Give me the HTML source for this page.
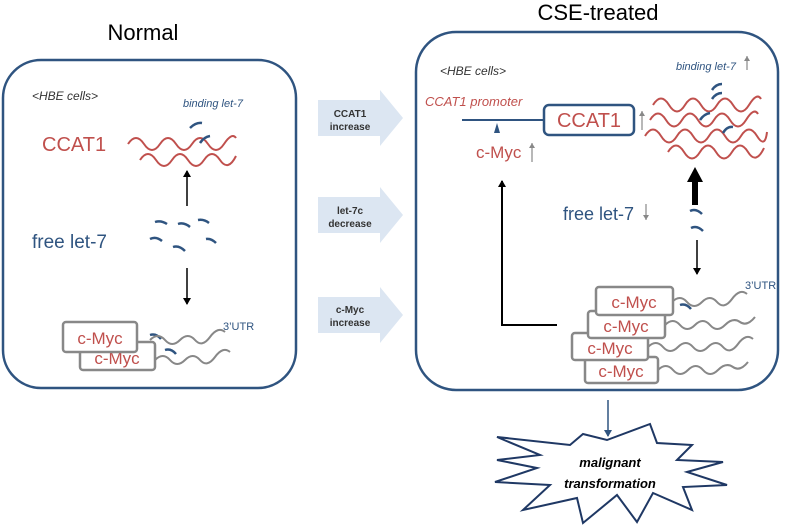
<!DOCTYPE html><html><head><meta charset="utf-8"><style>body{margin:0;background:#fff}svg{display:block}text{font-family:"Liberation Sans",sans-serif}</style></head><body>
<svg width="788" height="525" viewBox="0 0 788 525" xmlns="http://www.w3.org/2000/svg">
<defs>
<marker id="a" markerWidth="8" markerHeight="8" refX="6" refY="4" orient="auto" markerUnits="userSpaceOnUse"><path d="M0,0 L7,4 L0,8z" fill="#000"/></marker>
<marker id="g" markerWidth="6" markerHeight="6" refX="5" refY="3" orient="auto" markerUnits="userSpaceOnUse"><path d="M0,0 L5,3 L0,6z" fill="#888"/></marker>
<marker id="b" markerWidth="8" markerHeight="8" refX="6" refY="4" orient="auto" markerUnits="userSpaceOnUse"><path d="M0,0 L7,4 L0,8z" fill="#2f5480"/></marker>
</defs>
<text x="143" y="40" font-size="22" text-anchor="middle">Normal</text>
<text x="598" y="20" font-size="22" text-anchor="middle">CSE-treated</text>
<rect x="3" y="60" width="293" height="328" rx="38" fill="none" stroke="#2f5480" stroke-width="2.5"/>
<rect x="416" y="32" width="362" height="358" rx="40" fill="none" stroke="#2f5480" stroke-width="2.5"/>

<!-- left -->
<text x="32" y="100" font-size="12" font-style="italic" fill="#333">&lt;HBE cells&gt;</text>
<text x="183" y="107" font-size="11" font-style="italic" fill="#2f5480">binding let-7</text>
<text x="42" y="151" font-size="20" fill="#c0504d">CCAT1</text>
<g fill="none" stroke="#c0504d" stroke-width="2">
<path d="M128,144 q8,-12 16,0 t16,0 t16,0 t16,0 t16,0 t16,0 t12,-6"/>
<path d="M140,160 q8,-12 16,0 t16,0 t16,0 t16,0 t16,0 t16,-4"/>
</g>
<g fill="none" stroke="#2f5480" stroke-width="2.5">
<path d="M190,128 q6,-6 12,-5"/><path d="M200,143 q4,-6 10,-7"/>
<path d="M155,222 q6,-2 12,2"/><path d="M178,224 q6,-2 12,3"/><path d="M198,220 q6,-1 11,3"/>
<path d="M150,239 q6,-3 12,2"/><path d="M173,247 q6,-2 12,4"/><path d="M206,239 q5,-1 10,4"/>
<path d="M150,335 q6,-2 11,4"/><path d="M165,350 q6,-2 11,4"/>
</g>
<line x1="187" y1="206" x2="187" y2="171" stroke="#000" stroke-width="1.5" marker-end="url(#a)"/>
<line x1="187" y1="268" x2="187" y2="304" stroke="#000" stroke-width="1.5" marker-end="url(#a)"/>
<text x="32" y="248" font-size="19" fill="#2f5480">free let-7</text>
<text x="223" y="330" font-size="11" fill="#2f5480">3’UTR</text>
<g fill="none" stroke="#888" stroke-width="2">
<path d="M150,340 q8,-8 15,0 t15,0 t15,0 t15,-3 t15,-5"/>
<path d="M155,360 q8,-8 15,0 t15,0 t15,0 t15,-3 t15,-5"/>
</g>
<rect x="80" y="342" width="75" height="28" rx="3" fill="#fff" stroke="#888" stroke-width="2.5"/>
<text x="117" y="364" font-size="17" fill="#c0504d" text-anchor="middle">c-Myc</text>
<rect x="63" y="322" width="74" height="30" rx="3" fill="#fff" stroke="#888" stroke-width="2.5"/>
<text x="100" y="344" font-size="17" fill="#c0504d" text-anchor="middle">c-Myc</text>

<!-- middle arrows -->
<g fill="#dce6f2">
<path d="M318,100 H380 V90 L403,118 L380,146 V136 H318z"/>
<path d="M318,197 H380 V187 L403,215 L380,243 V233 H318z"/>
<path d="M318,297 H380 V287 L403,315 L380,343 V333 H318z"/>
</g>
<g font-size="10" font-weight="bold" fill="#333" text-anchor="middle">
<text x="350" y="117">CCAT1</text><text x="350" y="130">increase</text>
<text x="350" y="214">let-7c</text><text x="350" y="227">decrease</text>
<text x="350" y="313">c-Myc</text><text x="350" y="326">increase</text>
</g>

<!-- right -->
<text x="440" y="75" font-size="12" font-style="italic" fill="#333">&lt;HBE cells&gt;</text>
<text x="676" y="70" font-size="11" font-style="italic" fill="#2f5480">binding let-7</text>
<line x1="747" y1="70" x2="747" y2="56" stroke="#888" stroke-width="1.2" marker-end="url(#g)"/>
<text x="425" y="106" font-size="13" font-style="italic" fill="#c0504d">CCAT1 promoter</text>
<line x1="462" y1="120" x2="545" y2="120" stroke="#2f5480" stroke-width="2"/>
<path d="M494,133 L497,123 L500,133z" fill="#2f5480"/>
<rect x="544" y="105" width="90" height="30" rx="5" fill="#fff" stroke="#2f5480" stroke-width="2.5"/>
<text x="589" y="127" font-size="20" fill="#c0504d" text-anchor="middle">CCAT1</text>
<line x1="642" y1="130" x2="642" y2="111" stroke="#888" stroke-width="1.2" marker-end="url(#g)"/>
<text x="476" y="158" font-size="17" fill="#c0504d">c-Myc</text>
<line x1="532" y1="162" x2="532" y2="143" stroke="#888" stroke-width="1.2" marker-end="url(#g)"/>
<g fill="none" stroke="#c0504d" stroke-width="2">
<path d="M653,105 q8,-13 16,0 t16,0 t16,0 t16,0 t16,0 t16,0 t12,-6"/>
<path d="M650,120 q8,-13 16,0 t16,0 t16,0 t16,0 t16,0 t16,0 t12,-6"/>
<path d="M645,136 q8,-13 16,0 t16,0 t16,0 t16,0 t16,0 t16,0 t16,0 t10,-4"/>
<path d="M668,152 q8,-13 16,0 t16,0 t16,0 t16,0 t16,0 t16,-4"/>
</g>
<g fill="none" stroke="#2f5480" stroke-width="2.5">
<path d="M712,90 q4,-6 10,-6"/><path d="M712,99 q4,-6 10,-6"/><path d="M700,120 q4,-6 10,-7"/><path d="M723,133 q4,-7 10,-6"/>
<path d="M690,211 q6,-3 12,3"/><path d="M691,228 q6,-3 12,3"/>
<path d="M680,305 q6,-2 11,4"/>
</g>
<path d="M692,205 V182 H687 L695,167 L703,182 H698 V205z" fill="#000"/>
<line x1="697" y1="240" x2="697" y2="274" stroke="#000" stroke-width="1.5" marker-end="url(#a)"/>
<text x="563" y="220" font-size="18" fill="#2f5480">free let-7</text>
<line x1="646" y1="204" x2="646" y2="220" stroke="#888" stroke-width="1.2" marker-end="url(#g)"/>
<text x="745" y="289" font-size="11" fill="#2f5480">3’UTR</text>
<g fill="none" stroke="#888" stroke-width="2">
<path d="M672,302 q8,-8 15,0 t15,0 t15,0 t15,-3 t15,-5"/>
<path d="M665,325 q8,-8 15,0 t15,0 t15,0 t15,0 t15,-3 t15,-5"/>
<path d="M648,347 q8,-8 15,0 t15,0 t15,0 t15,0 t15,0 t15,-3 t15,-5"/>
<path d="M658,370 q8,-8 15,0 t15,0 t15,0 t15,0 t15,-3 t15,-5"/>
</g>
<polyline points="557,325 502,325 502,181" fill="none" stroke="#000" stroke-width="2" marker-end="url(#a)"/>
<g stroke="#888" stroke-width="2.5" fill="#fff">
<rect x="585" y="357" width="73" height="26" rx="3"/>
<rect x="572" y="333" width="76" height="27" rx="3"/>
<rect x="588" y="311" width="77" height="27" rx="3"/>
<rect x="596" y="287" width="77" height="28" rx="3"/>
</g>
<g font-size="17" fill="#c0504d" text-anchor="middle">
<text x="621" y="377">c-Myc</text><text x="610" y="354">c-Myc</text><text x="626" y="332">c-Myc</text><text x="634" y="308">c-Myc</text>
</g>
<line x1="608" y1="400" x2="608" y2="436" stroke="#2f5480" stroke-width="1.5" marker-end="url(#b)"/>
<polygon points="497,437 570,445 583,434 607,440 650,424 657,443 692,445 677,460 723,462 687,472 727,485 683,487 692,510 653,493 637,522 617,495 583,523 577,498 523,510 550,485 495,482 537,468 497,460 540,455" fill="#fff" stroke="#1f3864" stroke-width="2"/>
<g font-size="13" font-weight="bold" font-style="italic" fill="#000" text-anchor="middle">
<text x="610" y="467">malignant</text><text x="610" y="488">transformation</text>
</g>
</svg></body></html>
